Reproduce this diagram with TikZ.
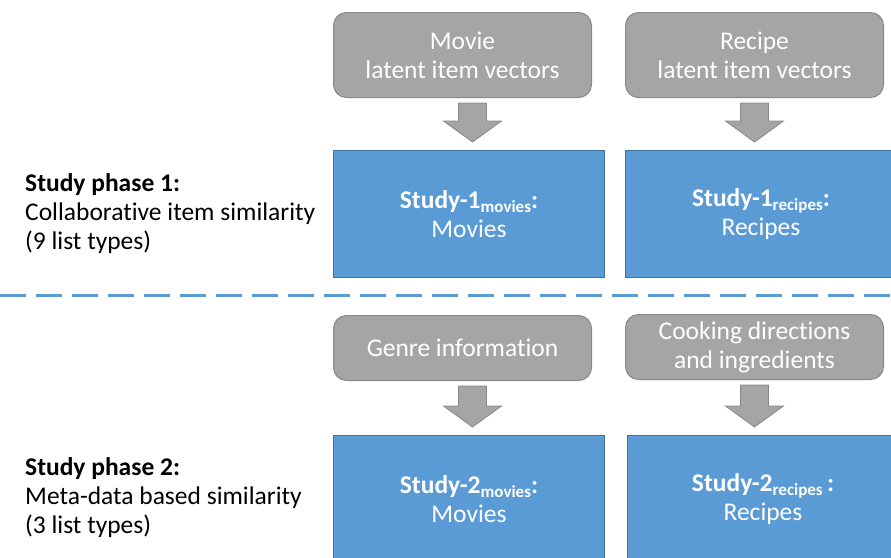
\documentclass[tikz,border=0pt]{standalone}
\usepackage{fontspec}
\setmainfont{Carlito}[Ligatures=NoCommon]
\usepackage{tikz}
\usetikzlibrary{
  positioning, % for relative node positioning
  calc, % for position calculations
}
\definecolor{office-gray}{RGB}{165, 165, 165}
\definecolor{office-gray-dark}{RGB}{135, 135, 135}
\definecolor{office-blue}{RGB}{91, 155, 213}
\definecolor{office-blue-dark}{RGB}{65, 113, 156}
\newcommand\subtxt[1]{\raisebox{-4pt}{\fontsize{17}{17}\selectfont #1}}
% block arrow from the bottom of #1 to the top of #2, shifted by #3
\newcommand\blockarrow[3]{%
  \coordinate (ba-top) at ($(#1.south)+(#3,5)$);
  \coordinate (ba-end) at ($(#2.north)+(0,-8)$);
  \coordinate (ba-tip) at (ba-end -| ba-top);
  \draw[arrowbox] ($(ba-top)+(-14,0)$) -- ($(ba-top)+(14,0)$)
    -- ($(ba-tip)+(14,-21)$) -- ($(ba-tip)+(29,-21)$) -- (ba-tip)
    -- ($(ba-tip)+(-29,-21)$) -- ($(ba-tip)+(-14,-21)$) -- cycle;
}

\begin{document}
\begin{tikzpicture}[%
    x=1pt, y=-1pt,%
    font=\fontsize{25.5}{29}\selectfont,%
    srcbox/.style={draw=office-gray-dark, fill=office-gray, line width=1pt,%
      rounded corners=13pt, text=white, align=center, inner sep=0pt,%
      minimum width=258pt, anchor=north west},%
    studybox/.style={draw=office-blue-dark, fill=office-blue, line width=1pt,%
      text=white, align=center, inner sep=0pt,%
      minimum width=271pt, minimum height=127pt},%
    arrowbox/.style={draw=office-gray-dark, fill=office-gray, line width=0.8pt},%
    phaselabel/.style={align=left, anchor=west, inner sep=0pt},%
    sepline/.style={draw=office-blue, line width=3pt, dash pattern=on 26pt off 10pt},%
  ]
  \useasboundingbox (0,0) rectangle (891,557);
  \clip (0,0) rectangle (891,557);

  % phase 1
  \node[phaselabel] (ph1) at (25,214)
    {\textbf{Study phase 1:}\\ Collaborative item similarity\\ (9 list types)};
  \node[srcbox, minimum height=85pt] (movvec) at (333,12)
    {Movie\\ latent item vectors};
  \node[srcbox, minimum height=85pt] (recvec) at (625,12)
    {Recipe\\ latent item vectors};
  \node[studybox, anchor=north west] (s1mov) at (333,150)
    {\textbf{Study-1\subtxt{movies}:}\\ Movies};
  \node[studybox, right=20pt of s1mov] (s1rec)
    {\textbf{Study-1\subtxt{recipes}:}\\ Recipes};
  \blockarrow{movvec}{s1mov}{10}
  \blockarrow{recvec}{s1rec}{0}

  % separator
  \coordinate (sepL) at (0,295);
  \coordinate (sepR) at (891,295);
  \draw[sepline] (sepL) -- (sepR);

  % phase 2
  \node[phaselabel] (ph2) at (25,498)
    {\textbf{Study phase 2:}\\ Meta-data based similarity\\ (3 list types)};
  \node[srcbox, minimum height=65pt] (genre) at (333,315)
    {Genre information};
  \node[srcbox, minimum height=65pt] (cook) at (625,314)
    {Cooking directions\\ and ingredients};
  \node[studybox, anchor=north west] (s2mov) at (333,435)
    {\textbf{Study-2\subtxt{movies}:}\\ Movies};
  \node[studybox, right=22pt of s2mov] (s2rec)
    {\textbf{Study-2\subtxt{recipes}\,:}\\ Recipes};
  \blockarrow{genre}{s2mov}{10}
  \blockarrow{cook}{s2rec}{0}
\end{tikzpicture}
\end{document}
